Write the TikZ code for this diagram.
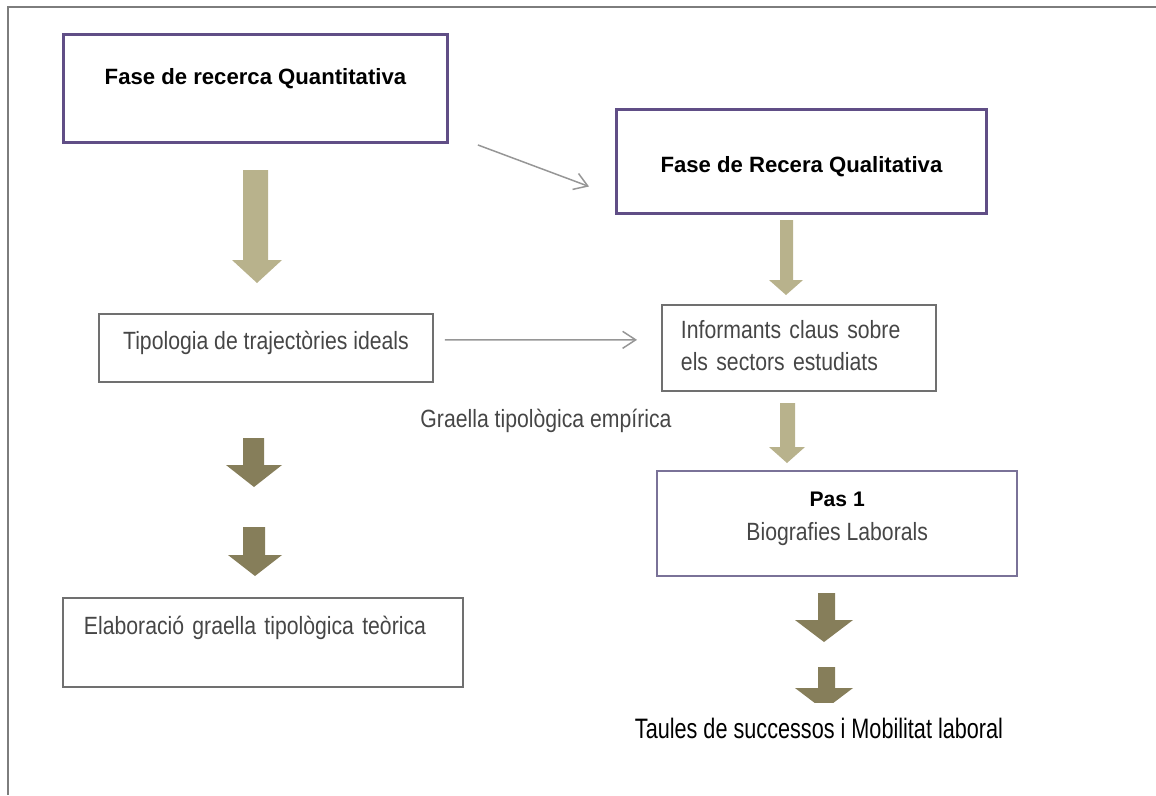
\documentclass[tikz,border=0pt]{standalone}
\usepackage{fontspec}
\setmainfont{Liberation Sans}
\newfontfamily\narrowfont{Liberation Sans}[FakeStretch=0.85]
\newfontfamily\taulesfont{Liberation Sans}[FakeStretch=0.77]
\usetikzlibrary{arrows.meta}

\definecolor{phasepurple}{RGB}{96,78,134}
\definecolor{paspurple}{RGB}{122,114,152}
\definecolor{boxgrey}{RGB}{112,112,112}
\definecolor{textgrey}{RGB}{70,70,70}
\definecolor{arrgrey}{RGB}{150,150,150}
\definecolor{khakilight}{RGB}{184,178,140}
\definecolor{olivedark}{RGB}{134,126,90}
\definecolor{framegrey}{RGB}{125,125,125}

\tikzset{
    phasebox/.style={draw=phasepurple, line width=1.7pt, inner sep=0pt, anchor=north west,
        font=\bfseries\fontsize{12.6}{15}\selectfont, text=black},
    greybox/.style={draw=boxgrey, line width=1.1pt, inner sep=0pt, anchor=north west,
        font=\narrowfont\fontsize{14.2}{18.1}\selectfont, text=textgrey},
    thinarr/.style={draw=arrgrey, line width=0.85pt, -{Straight Barb[length=0.26cm,width=0.34cm]}}
}

\begin{document}
\begin{tikzpicture}[x=0.02cm, y=-0.02cm]
    \useasboundingbox (0,0) rectangle (1156,795);
    % Frame
    \draw[framegrey, line width=1.1pt] (1156,7) -- (8,7) -- (8,795);

    % Phase boxes
    \node[phasebox, minimum width=7.68cm, minimum height=2.16cm, text height=28.6pt, text depth=32.6pt]
        (quant) at (62,33) {Fase de recerca Quantitativa};
    \node[phasebox, minimum width=7.4cm, minimum height=2.08cm, text height=36pt, text depth=23pt]
        (qual) at (615,108) {Fase de Recera Qualitativa};

    % Grey boxes
    \node[greybox, minimum width=6.68cm, minimum height=1.36cm, text height=20.4pt, text depth=18.1pt]
        (tipol) at (98,313) {Tipologia de trajectòries ideals};
    \node[greybox, inner xsep=0.38cm, text width=4.72cm, align=left, text height=19.3pt, text depth=29.5pt]
        (inform) at (661,304) {Informants claus sobre\\els sectors estudiats};
    \node[greybox, draw=paspurple, line width=1.4pt, minimum width=7.2cm, minimum height=2.1cm,
        align=center, font=\narrowfont\fontsize{14.2}{19.3}\selectfont, text height=39.1pt, text depth=20.4pt]
        (pas) at (656,470) {{\rmfamily\bfseries\fontsize{12}{19.3}\selectfont\color{black}Pas 1}\\Biografies Laborals};
    \node[greybox, inner xsep=0.42cm, text width=7.16cm, align=left, text height=21pt, text depth=29.5pt]
        (elab) at (62,597) {Elaboració graella tipològica teòrica};

    % Free labels
    \node[anchor=base, font=\narrowfont\fontsize{14.2}{18}\selectfont, text=textgrey]
        (graella) at (546,427) {Graella tipològica empírica};
    \node[anchor=base, font=\taulesfont\fontsize{16}{19}\selectfont, text=black]
        (taules) at (819,738) {Taules de successos i Mobilitat laboral};

    % Thin arrows
    \draw[thinarr] ([shift={(29,1)}]quant.south east) -- ([shift={(-26,25)}]qual.west);
    \draw[thinarr] ([shift={(11,-8)}]tipol.east) -- ([shift={(-24,-8)}]inform.west);

    % Block arrows
    \foreach \sl/\sr/\hl/\hr/\top/\hs/\tip/\col in {
        243/268/232/282/170/260/283/khakilight,
        780/793/769/803/220/280/295/khakilight,
        780/795/769/805/403/447/463/khakilight,
        243/264/226/282/438/465/487/olivedark,
        243/265/228/282/527/555/576/olivedark,
        818/835/795/853/593/620/642/olivedark} {
        \fill[\col] (\sl,\top) -- (\sr,\top) -- (\sr,\hs) -- (\hr,\hs) -- ({(\hl+\hr)/2},\tip)
            -- (\hl,\hs) -- (\sl,\hs) -- cycle;
    }
    \begin{scope}
        \clip (780,660) rectangle (880,702);
        \fill[olivedark] (818,667) -- (835,667) -- (835,688) -- (853,688) -- (824,710)
            -- (795,688) -- (818,688) -- cycle;
    \end{scope}
\end{tikzpicture}
\end{document}
